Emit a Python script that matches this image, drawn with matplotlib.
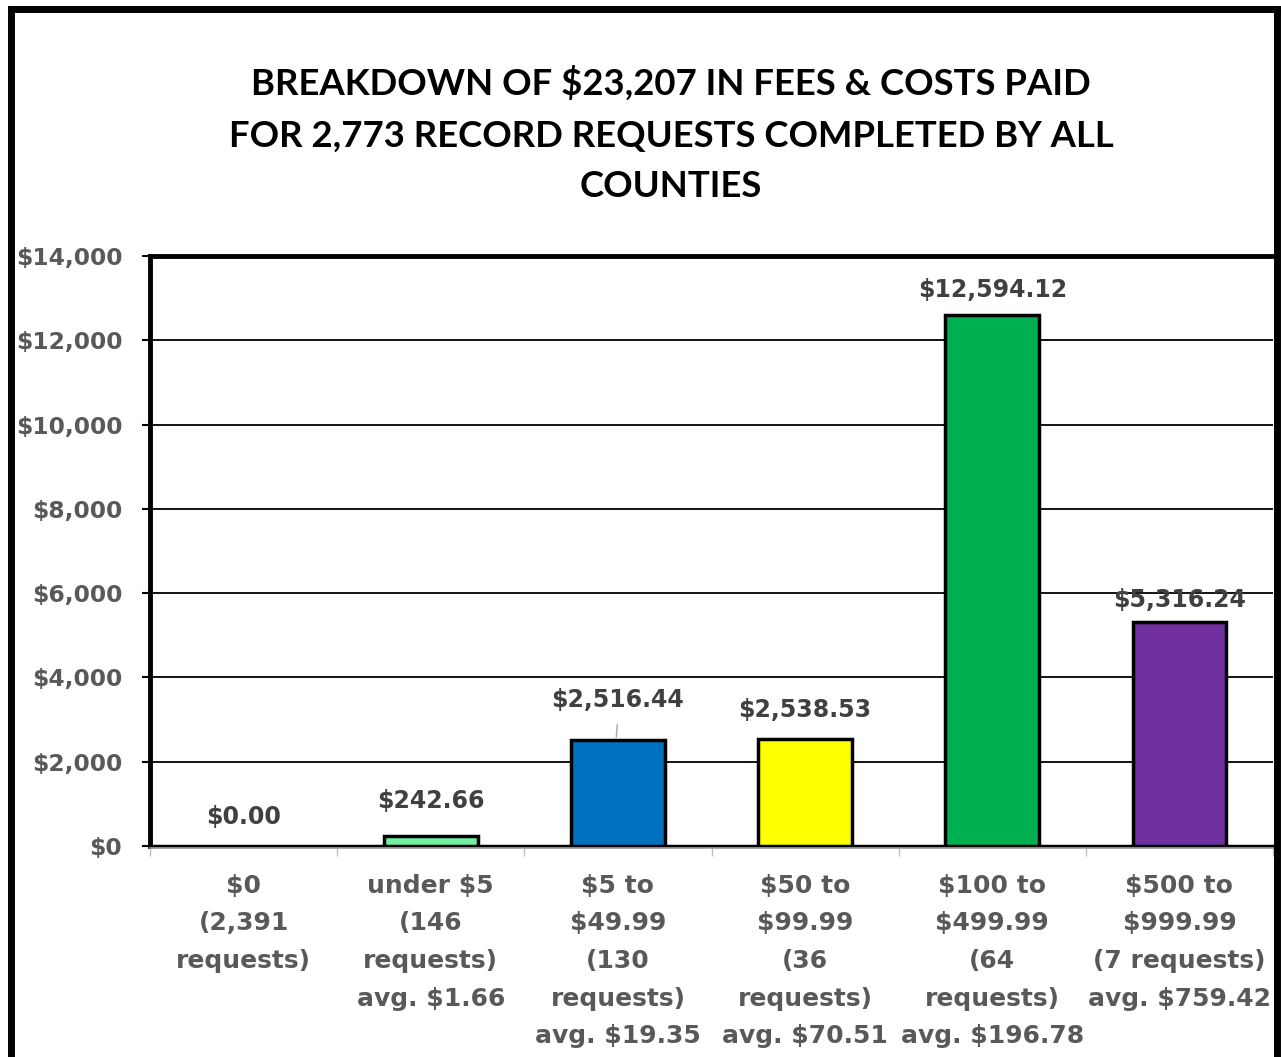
import matplotlib.pyplot as plt
import numpy as np
from matplotlib.lines import Line2D
from matplotlib.ticker import FuncFormatter

import matplotlib as mpl
mpl.rcParams['figure.dpi'] = 100
mpl.rcParams['font.family'] = 'DejaVu Sans'
mpl.rcParams['font.weight'] = 'bold'

categories = [
    "$0\n(2,391\nrequests)",
    "under $5\n(146\nrequests)\navg. $1.66",
    "$5 to\n$49.99\n(130\nrequests)\navg. $19.35",
    "$50 to\n$99.99\n(36\nrequests)\navg. $70.51",
    "$100 to\n$499.99\n(64\nrequests)\navg. $196.78",
    "$500 to\n$999.99\n(7 requests)\navg. $759.42",
]
totals = [0.00, 242.66, 2516.44, 2538.53, 12594.12, 5316.24]
value_labels = ["$0.00", "$242.66", "$2,516.44", "$2,538.53", "$12,594.12", "$5,316.24"]
bar_colors = ["#ffffff", "#70f0a0", "#0070c0", "#ffff00", "#00b050", "#7030a0"]
title = "BREAKDOWN OF \\$23,207 IN FEES & COSTS PAID\nFOR 2,773 RECORD REQUESTS COMPLETED BY ALL\nCOUNTIES"

# vertical offset (points) of each value label centre above its bar top
label_offsets = [21, 25, 29, 21, 18, 16]

gray = "#595959"
dark = "#404040"

f = plt.figure(figsize=(12.81, 10.57))
ax = f.add_axes([150 / 1281, 1 - 846 / 1057, 1123 / 1281, 590 / 1057])

x = np.arange(len(totals))
bars = ax.bar(x, totals, width=0.5, color=bar_colors, edgecolor="black",
              linewidth=2.5, zorder=3)
bars[0].set_visible(False)

ax.set_xlim(-0.5, len(totals) - 0.5)
ax.set_ylim(0, 14000)
ax.set_yticks(np.arange(0, 14001, 2000))
ax.yaxis.set_major_formatter(FuncFormatter(lambda v, p: f"${v:,.0f}"))
ax.grid(axis="y", color="black", lw=1.3, zorder=1)
ax.tick_params(axis="y", length=6, width=1.5, color="black", pad=14,
               labelsize=16.8, labelcolor=gray)

ax.set_xticks(x)
ax.set_xticklabels(categories, linespacing=1.72, va="top", size=18, color=gray)
ax.tick_params(axis="x", length=0, pad=20)
ax.set_xticks(np.arange(-0.5, len(totals), 1), minor=True)
ax.tick_params(axis="x", which="minor", length=7, width=1, color="#bfbfbf")

for side in ["left", "top"]:
    ax.spines[side].set_linewidth(3.5)
ax.spines["right"].set_visible(False)
ax.spines["bottom"].set_linewidth(2.5)
ax.plot([0, 1], [-0.004, -0.004], transform=ax.transAxes, color="#a6a6a6",
        lw=1.2, clip_on=False, zorder=4)

for i, (v, s) in enumerate(zip(totals, value_labels)):
    ax.annotate(s, (x[i], v), xytext=(0, label_offsets[i]), textcoords="offset points",
                ha="center", va="center", size=17, color=dark)
# leader line for the $2,516.44 label
ax.annotate("", (x[2] - 0.01, totals[2]), xytext=(1, 13), textcoords="offset points",
            arrowprops=dict(arrowstyle="-", color="#a6a6a6", lw=1))

f.text(671 / 1281, 1 - 66 / 1057, title, ha="center", va="top", family="Lato",
       weight="bold", size=26.3, linespacing=1.67, color="black")

# outer chart frame
for xs, ys in [([11, 11], [0, 1048]), ([11, 1277], [1048, 1048]), ([1277, 1277], [0, 1048])]:
    f.add_artist(Line2D(np.array(xs) / 1281, np.array(ys) / 1057, color="black",
                        lw=5, transform=f.transFigure))

f.savefig("out.png")
